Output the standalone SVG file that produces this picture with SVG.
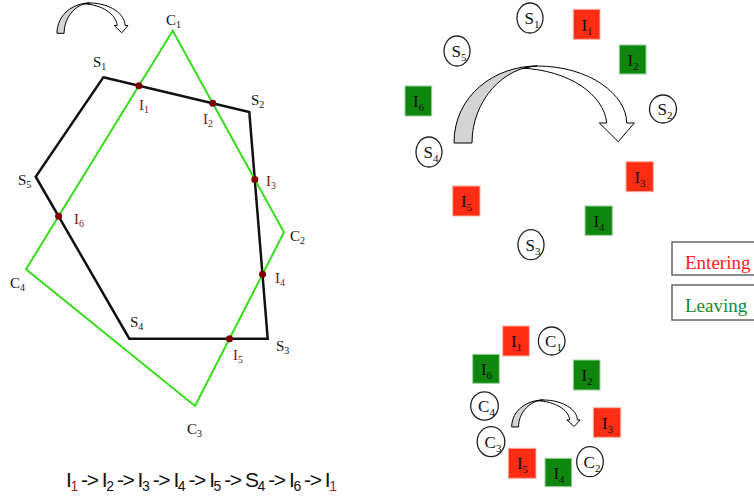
<svg xmlns="http://www.w3.org/2000/svg" width="754" height="498" viewBox="0 0 754 498">
<defs>
<style>
.lbl{font-family:"Liberation Serif","Times New Roman",serif;font-size:15px;fill:#111}
.ilbl{font-family:"Liberation Serif","Times New Roman",serif;font-size:15px;fill:#7a1515}
.sub{font-size:10px}
.nt{font-family:"Liberation Serif","Times New Roman",serif;font-size:17px;fill:#111;text-anchor:middle}
.nsub{font-size:11px}
.circ{fill:#fff;stroke:#222;stroke-width:1.3}
.red{fill:#ff2d14;stroke:#ffb0a0;stroke-width:1}
.grn{fill:#0f870f;stroke:#9fd09f;stroke-width:1}
.dot{fill:#7d0000}
.arw{stroke:#000;stroke-linejoin:miter}
</style>
<g id="curvedArrow">
<path class="arw" d="M83,0 C136,0 172.7,29 172.7,57 L180.3,57 L164.3,75.7 L145.3,57 L152.7,57 C150,29 116,4 66,2 Z" fill="#fff" vector-effect="non-scaling-stroke"/>
<path class="arw" d="M0,77 C0,29 41,0 83,0 C50,1 18,34 18,77 Z" fill="#d4d4d4" vector-effect="non-scaling-stroke"/>
</g>
</defs>
<rect width="754" height="498" fill="#fff"/>

<!-- Left diagram -->
<g id="polygons">
<polygon id="subject" points="103.3,77.3 249.3,112 267.7,338.7 129.3,338.7 35.7,176.7" fill="none" stroke="#111" stroke-width="2.5" stroke-linejoin="miter"/>
<polygon id="clip" points="172.7,30.7 284,232.3 195,406 26,269.3" fill="none" stroke="#38dc1c" stroke-width="2"/>
</g>
<g id="intersections">
<circle class="dot" cx="138.9" cy="85.8" r="3.5"/>
<circle class="dot" cx="212.8" cy="103.3" r="3.5"/>
<circle class="dot" cx="254.8" cy="179.4" r="3.5"/>
<circle class="dot" cx="262.5" cy="274.3" r="3.5"/>
<circle class="dot" cx="229.5" cy="338.7" r="3.5"/>
<circle class="dot" cx="58.6" cy="216.3" r="3.5"/>
</g>
<g id="left-labels">
<text class="lbl" x="166" y="25">C<tspan class="sub" dy="3">1</tspan></text>
<text class="lbl" x="93" y="67">S<tspan class="sub" dy="3">1</tspan></text>
<text class="lbl" x="251" y="105">S<tspan class="sub" dy="3">2</tspan></text>
<text class="lbl" x="18" y="185">S<tspan class="sub" dy="3">5</tspan></text>
<text class="lbl" x="290" y="241">C<tspan class="sub" dy="3">2</tspan></text>
<text class="lbl" x="10" y="288">C<tspan class="sub" dy="3">4</tspan></text>
<text class="lbl" x="130" y="327">S<tspan class="sub" dy="3">4</tspan></text>
<text class="lbl" x="276" y="351">S<tspan class="sub" dy="3">3</tspan></text>
<text class="lbl" x="187" y="434">C<tspan class="sub" dy="3">3</tspan></text>
<text class="ilbl" x="139" y="110">I<tspan class="sub" dy="3">1</tspan></text>
<text class="ilbl" x="203" y="124">I<tspan class="sub" dy="3">2</tspan></text>
<text class="ilbl" x="266" y="186">I<tspan class="sub" dy="3">3</tspan></text>
<text class="ilbl" x="74" y="224">I<tspan class="sub" dy="3">6</tspan></text>
<text class="ilbl" x="275" y="283">I<tspan class="sub" dy="3">4</tspan></text>
<text class="ilbl" x="233" y="360">I<tspan class="sub" dy="3">5</tspan></text>
</g>
<g id="arrow-topleft">
<use href="#curvedArrow" transform="translate(57,3) scale(0.394)"/>
</g>

<text id="sequence" x="66" y="487" font-family="'Liberation Sans',Arial,sans-serif" font-size="21" fill="#111" textLength="271" lengthAdjust="spacing">I<tspan font-size="14" dy="4" fill="#9a2a0a">1</tspan><tspan dy="-4"> -&gt; I</tspan><tspan font-size="14" dy="4">2</tspan><tspan dy="-4"> -&gt; I</tspan><tspan font-size="14" dy="4">3</tspan><tspan dy="-4"> -&gt; I</tspan><tspan font-size="14" dy="4">4</tspan><tspan dy="-4"> -&gt; I</tspan><tspan font-size="14" dy="4">5</tspan><tspan dy="-4"> -&gt; S</tspan><tspan font-size="14" dy="4">4</tspan><tspan dy="-4"> -&gt; I</tspan><tspan font-size="14" dy="4">6</tspan><tspan dy="-4"> -&gt; I</tspan><tspan font-size="14" dy="4" fill="#9a2a0a">1</tspan></text>

<!-- Top-right ring -->
<g id="ring-top">
<g id="rS1"><ellipse class="circ" cx="530" cy="18" rx="13" ry="15"/><text class="nt" x="532" y="24">S<tspan class="nsub" dy="4">1</tspan></text></g>
<g id="rI1"><rect class="red" x="573.3" y="9.3" width="26.7" height="30"/><text class="nt" x="587" y="31">I<tspan class="nsub" dy="4">1</tspan></text></g>
<g id="rS5"><ellipse class="circ" cx="457" cy="51" rx="13" ry="15"/><text class="nt" x="459" y="57">S<tspan class="nsub" dy="4">5</tspan></text></g>
<g id="rI2"><rect class="grn" x="619.3" y="45" width="26.7" height="29"/><text class="nt" x="633" y="66">I<tspan class="nsub" dy="4">2</tspan></text></g>
<g id="rI6"><rect class="grn" x="405" y="86" width="26.7" height="30"/><text class="nt" x="418.5" y="107">I<tspan class="nsub" dy="4">6</tspan></text></g>
<g id="rS2"><ellipse class="circ" cx="663" cy="109" rx="13.5" ry="14"/><text class="nt" x="665" y="115">S<tspan class="nsub" dy="4">2</tspan></text></g>
<g id="rS4"><ellipse class="circ" cx="429" cy="152" rx="13" ry="15"/><text class="nt" x="431" y="158">S<tspan class="nsub" dy="4">4</tspan></text></g>
<g id="rI3"><rect class="red" x="626" y="161.7" width="27.3" height="30"/><text class="nt" x="640" y="183">I<tspan class="nsub" dy="4">3</tspan></text></g>
<g id="rI5"><rect class="red" x="452.7" y="186" width="27.3" height="30"/><text class="nt" x="466.5" y="207">I<tspan class="nsub" dy="4">5</tspan></text></g>
<g id="rI4"><rect class="grn" x="585" y="206" width="27.3" height="29.3"/><text class="nt" x="599" y="227">I<tspan class="nsub" dy="4">4</tspan></text></g>
<g id="rS3"><ellipse class="circ" cx="531" cy="244.7" rx="13" ry="15"/><text class="nt" x="533" y="251">S<tspan class="nsub" dy="4">3</tspan></text></g>
</g>
<g id="arrow-big">
<use href="#curvedArrow" transform="translate(454,66)"/>
</g>

<!-- Legend -->
<g id="legend-entering">
<rect x="672" y="242" width="100" height="33" fill="#fff" stroke="#666" stroke-width="1.5"/>
<text x="685" y="269" font-family="'Liberation Serif','Times New Roman',serif" font-size="19" fill="#ff1a1a">Entering</text>
</g>
<g id="legend-leaving">
<rect x="672" y="285" width="100" height="35" fill="#fff" stroke="#666" stroke-width="1.5"/>
<text x="685" y="312" font-family="'Liberation Serif','Times New Roman',serif" font-size="19" fill="#128a2a">Leaving</text>
</g>

<!-- Bottom-right ring -->
<g id="ring-bottom">
<g id="bI1"><rect class="red" x="502.7" y="326" width="26.6" height="30"/><text class="nt" x="516.5" y="347">I<tspan class="nsub" dy="4">1</tspan></text></g>
<g id="bC1"><ellipse class="circ" cx="551.7" cy="341" rx="13.3" ry="14"/><text class="nt" x="553.5" y="347">C<tspan class="nsub" dy="4">1</tspan></text></g>
<g id="bI6"><rect class="grn" x="472.7" y="354.3" width="26.6" height="29"/><text class="nt" x="486.5" y="375">I<tspan class="nsub" dy="4">6</tspan></text></g>
<g id="bI2"><rect class="grn" x="573.3" y="360" width="26.7" height="30"/><text class="nt" x="587" y="381">I<tspan class="nsub" dy="4">2</tspan></text></g>
<g id="bC4"><ellipse class="circ" cx="484.5" cy="406" rx="13.8" ry="14.2"/><text class="nt" x="486.5" y="412">C<tspan class="nsub" dy="4">4</tspan></text></g>
<g id="bI3"><rect class="red" x="593.3" y="407.7" width="27.4" height="29.6"/><text class="nt" x="607.5" y="429">I<tspan class="nsub" dy="4">3</tspan></text></g>
<g id="bC3"><ellipse class="circ" cx="491" cy="441.7" rx="13.8" ry="15"/><text class="nt" x="493" y="448">C<tspan class="nsub" dy="4">3</tspan></text></g>
<g id="bI5"><rect class="red" x="508.3" y="448.3" width="27.7" height="30"/><text class="nt" x="522.5" y="469">I<tspan class="nsub" dy="4">5</tspan></text></g>
<g id="bI4"><rect class="grn" x="545" y="458.3" width="26.7" height="28.4"/><text class="nt" x="559" y="479">I<tspan class="nsub" dy="4">4</tspan></text></g>
<g id="bC2"><ellipse class="circ" cx="590" cy="461.7" rx="13.3" ry="15"/><text class="nt" x="592" y="468">C<tspan class="nsub" dy="4">2</tspan></text></g>
</g>
<g id="arrow-bottom">
<use href="#curvedArrow" transform="translate(511.7,400) scale(0.38,0.35)"/>
</g>
</svg>
